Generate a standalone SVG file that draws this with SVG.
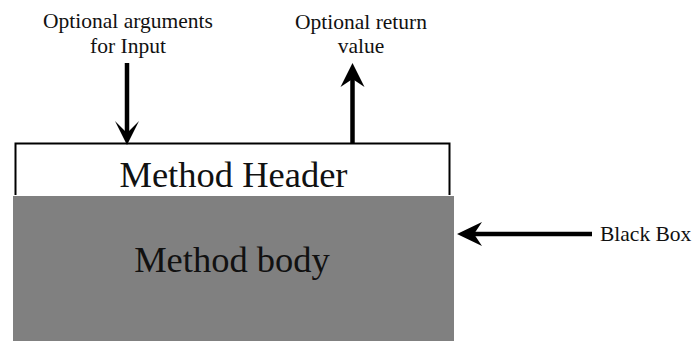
<svg xmlns="http://www.w3.org/2000/svg" width="695" height="341" viewBox="0 0 695 341">
<style>
.lbl{font-family:"Liberation Serif","Times New Roman",serif;fill:#111}
.small{font-size:21.5px}
.big{font-size:36.5px}
.conn{stroke:#000;stroke-width:4.5;fill:none}
.head{fill:#000}
</style>
<rect width="695" height="341" fill="#fff"/>
<g id="header">
<path d="M15.5,195 V143.5 H449.5 V195" fill="none" stroke="#000" stroke-width="2"/>
<text class="lbl big" x="233.5" y="187" text-anchor="middle">Method Header</text>
</g>
<g id="body">
<rect x="13" y="196" width="441" height="145" fill="#808080"/>
<text class="lbl big" x="232" y="272" text-anchor="middle">Method body</text>
</g>
<g id="input-label">
<text class="lbl small" x="128" y="28" text-anchor="middle">Optional arguments</text>
<text class="lbl small" x="128" y="53" text-anchor="middle">for Input</text>
</g>
<g id="return-label">
<text class="lbl small" x="361" y="29" text-anchor="middle">Optional return</text>
<text class="lbl small" x="361" y="53" text-anchor="middle">value</text>
</g>
<g id="blackbox-label">
<text class="lbl small" x="600" y="241">Black Box</text>
</g>
<g id="connectors">
<line class="conn" x1="127" y1="63" x2="127" y2="136"/>
<polygon class="head" points="127,145 115,121 127,133 139,121"/>
<line class="conn" x1="352.5" y1="143" x2="352.5" y2="78"/>
<polygon class="head" points="352.5,63 340.5,87 352.5,79 364.5,87"/>
<line class="conn" x1="592" y1="234" x2="472" y2="234"/>
<polygon class="head" points="457,234 482,222 474,234 482,246"/>
</g>
</svg>
